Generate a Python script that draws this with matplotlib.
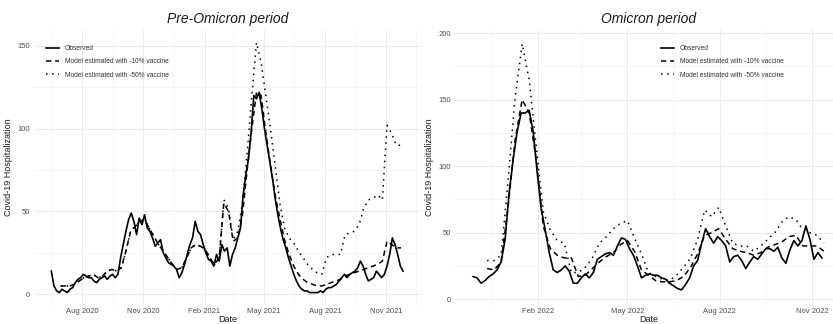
import matplotlib
matplotlib.use("Agg")
import matplotlib.pyplot as plt
import matplotlib.dates as mdates
import pandas as pd

plt.rcParams['font.family'] = ['Liberation Sans', 'DejaVu Sans']

# pre-omicron observed, every 4 days from 2020-06-16
pre_obs = [14, 5, 2, 1, 3, 2, 1, 3, 4, 7, 9, 10, 12, 11, 10, 10, 8, 7, 9, 10,
           11, 9, 11, 12, 10, 12, 22, 30, 38, 45, 49, 44, 36, 46, 42, 48, 40, 38, 34, 29,
           31, 33, 25, 22, 19, 18, 17, 15, 10, 13, 18, 24, 30, 34, 44, 38, 36, 30, 25, 21,
           20, 17, 24, 20, 30, 26, 28, 17, 24, 28, 34, 40, 60, 72, 82, 98, 120, 118, 122, 112,
           100, 90, 80, 70, 58, 48, 40, 33, 28, 22, 17, 12, 8, 5, 3, 2, 2, 1, 1, 1,
           1, 2, 1, 3, 4, 4, 5, 6, 8, 10, 12, 10, 12, 13, 14, 16, 20, 17, 12, 8,
           9, 10, 14, 12, 10, 12, 17, 24, 34, 30, 24, 17, 14]
# model runs, weekly from 2020-06-30
pre_m10 = [5, 5, 5, 6, 8, 10, 11, 12, 10, 11, 14, 15, 14, 16, 26, 38, 41, 44, 45, 40,
           35, 30, 26, 22, 18, 15, 16, 22, 28, 30, 29, 27, 22, 18, 22, 55, 50, 32, 34, 48,
           75, 100, 122, 120, 98, 78, 60, 46, 33, 24, 17, 12, 9, 7, 6, 5, 5, 6, 7, 8,
           9, 11, 12, 13, 14, 15, 16, 17, 18, 20, 32, 30, 28, 28]
pre_m50 = [5, 5, 5, 6, 8, 10, 11, 12, 10, 11, 14, 15, 14, 16, 26, 38, 41, 44, 45, 40,
           35, 30, 26, 22, 18, 15, 16, 22, 28, 30, 29, 27, 22, 18, 22, 57, 52, 33, 38, 55,
           85, 120, 152, 140, 120, 100, 78, 55, 40, 34, 31, 26, 22, 18, 15, 13, 12, 22, 24, 24,
           24, 36, 37, 38, 42, 52, 57, 58, 60, 57, 102, 97, 90, 90]

# omicron observed, every 4 days from 2021-11-28
omi_obs = [17, 16, 12, 14, 17, 19, 22, 28, 45, 80, 105, 126, 140, 140, 142, 126, 95, 68, 52, 35,
           22, 20, 22, 25, 21, 12, 12, 16, 19, 16, 20, 30, 32, 34, 35, 33, 40, 46, 45, 38,
           33, 25, 16, 18, 19, 18, 18, 16, 15, 12, 10, 8, 7, 11, 16, 25, 29, 42, 53, 47,
           42, 47, 44, 40, 28, 32, 33, 29, 23, 28, 32, 30, 34, 38, 38, 36, 39, 31, 27, 37,
           44, 40, 44, 55, 45, 30, 35, 31]
# model runs, weekly from 2021-12-12
omi_m10 = [23, 22, 28, 70, 120, 150, 140, 105, 55, 38, 33, 31, 31, 17, 18, 23, 28, 32, 35, 41,
           44, 36, 22, 18, 14, 13, 13, 14, 17, 24, 34, 48, 50, 53, 45, 38, 36, 35, 33, 35,
           39, 41, 43, 47, 48, 40, 40, 40, 36]
omi_m50 = [29, 29, 33, 90, 152, 192, 165, 115, 66, 52, 44, 42, 20, 20, 24, 31, 42, 47, 53, 57,
           59, 46, 34, 20, 17, 15, 14, 18, 24, 31, 45, 67, 62, 69, 55, 42, 40, 40, 36, 40,
           45, 50, 58, 62, 60, 52, 50, 48, 42]

labels = ['Observed', 'Model estimated with -10% vaccine', 'Model estimated with -50% vaccine']

fig = plt.figure(figsize=(8.33, 3.24), dpi=100)
W, H = 833, 324


def panel(left_px, obs, obs_start, m10, m50, m_start, xlim, ylim, yticks, title, leg_px):
    ax = fig.add_axes([left_px / W, 1 - 305 / H, 387 / W, 275 / H])
    d_obs = pd.date_range(obs_start, periods=len(obs), freq='4D')
    d_mod = pd.date_range(m_start, periods=len(m10), freq='7D')
    ax.plot(d_obs, obs, color='black', lw=1.2, label=labels[0])
    ax.plot(d_mod, m10, color='black', lw=1.1, ls=(0, (3.5, 2.5)), label=labels[1])
    ax.plot(d_mod, m50, color='black', lw=1.1, ls=(0, (1, 3)), label=labels[2])

    ax.set_xlim(pd.Timestamp(xlim[0]), pd.Timestamp(xlim[1]))
    ax.set_ylim(*ylim)
    ax.set_yticks(yticks)
    ax.set_yticks([t + 25 for t in yticks[:-1]], minor=True)
    ax.xaxis.set_major_locator(mdates.MonthLocator(bymonth=[2, 5, 8, 11]))
    ax.xaxis.set_minor_locator(mdates.MonthLocator(bymonth=[3, 6, 9, 12], bymonthday=16))
    ax.xaxis.set_major_formatter(mdates.DateFormatter('%b %Y'))

    ax.grid(which='major', color='#ebebeb', lw=0.7)
    ax.grid(which='minor', color='#f2f2f2', lw=0.45)
    ax.set_axisbelow(True)
    for s in ax.spines.values():
        s.set_visible(False)
    ax.tick_params(which='both', length=0, labelsize=5.5, labelcolor='#4d4d4d', pad=3)
    ax.tick_params(axis='x', pad=2)

    ax.set_title(title, fontsize=10, style='italic', color='#1a1a1a', pad=5)
    ax.set_ylabel('Covid-19 Hospitalization', fontsize=6.5, color='#1a1a1a', labelpad=3)
    ax.set_xlabel('Date', fontsize=6.5, color='#1a1a1a', labelpad=0)

    ax.legend(loc='upper left', bbox_to_anchor=(leg_px / W, 1 - 45 / H),
              bbox_transform=fig.transFigure, frameon=False, fontsize=4.8,
              handlelength=2.0, handletextpad=0.8, labelspacing=0.95,
              borderpad=0, borderaxespad=0, labelcolor='#333333')
    return ax


panel(34, pre_obs, '2020-06-16', pre_m10, pre_m50, '2020-06-30',
      ('2020-05-21', '2021-12-23'), (-6.5, 159.6), [0, 50, 100, 150],
      'Pre-Omicron period', 46)
panel(455, omi_obs, '2021-11-28', omi_m10, omi_m50, '2021-12-12',
      ('2021-11-10', '2022-12-01'), (-4.4, 202.4), [0, 50, 100, 150, 200],
      'Omicron period', 661)

fig.savefig('out.png', dpi=100)
